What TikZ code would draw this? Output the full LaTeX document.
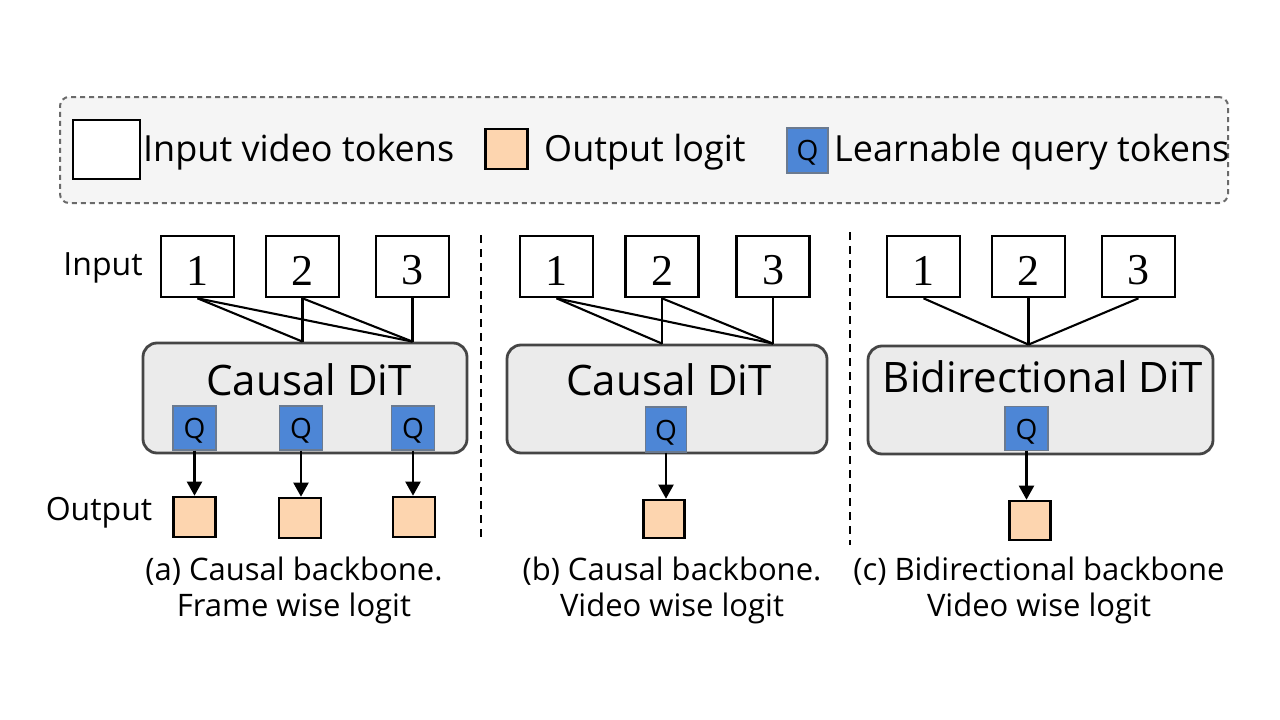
\documentclass[tikz,border=0pt]{standalone}
\usepackage{fontspec}
\setmainfont{Open Sans}
\newfontfamily\numfont{Liberation Serif}
\usetikzlibrary{arrows.meta}
\definecolor{legfill}{HTML}{F5F5F5}
\definecolor{legdash}{HTML}{6A6A6A}
\definecolor{ditfill}{HTML}{EBEBEB}
\definecolor{ditborder}{HTML}{454545}
\definecolor{qblue}{HTML}{4D86D6}
\definecolor{qborder}{HTML}{6B7A8F}
\definecolor{peach}{HTML}{FDD5AF}
\newcommand{\lowr}[2]{\raisebox{-#1}[\height][\depth]{#2}}
\tikzset{
  inbox/.style={draw=black, line width=2.6pt, fill=white, minimum width=73pt, minimum height=61pt, inner sep=0pt,
    font=\numfont\fontsize{44}{44}\selectfont},
  ditbox/.style={draw=ditborder, fill=ditfill, line width=2.8pt, rounded corners=14pt, inner sep=0pt},
  qbox/.style={draw=qborder, fill=qblue, line width=1.2pt, minimum width=43pt, minimum height=44pt, inner sep=0pt,
    font=\fontsize{28}{28}\selectfont},
  outbox/.style={draw=black, fill=peach, line width=2.6pt, minimum width=42pt, minimum height=40pt, inner sep=0pt},
  link/.style={line width=2.1pt},
  arr/.style={line width=2.1pt, -{Triangle[length=14pt,width=15pt]}},
  divider/.style={line width=2pt, dash pattern=on 8pt off 6pt},
  lbl/.style={inner sep=0pt, font=\fontsize{32}{32}\selectfont},
  ditlbl/.style={inner sep=0pt, font=\fontsize{42}{42}\selectfont},
  leglbl/.style={inner sep=0pt, anchor=west, font=\fontsize{36}{36}\selectfont},
  captxt/.style={inner sep=0pt, align=center, font=\fontsize{31}{36}\selectfont},
}
\begin{document}
\begin{tikzpicture}[x=1pt, y=-1pt]
\useasboundingbox (0,0) rectangle (1280,720);

% legend
\node[draw=legdash, fill=legfill, line width=2pt, dash pattern=on 5pt off 4pt, rounded corners=9pt,
      minimum width=1168pt, minimum height=106pt, inner sep=0pt] (legend) at (644,150) {};
\node[draw=black, fill=white, line width=2.6pt, minimum width=67pt, minimum height=59pt, inner sep=0pt] (legin) at (106.5,149.5) {};
\node[leglbl] (legintxt) at (143,152) {Input video tokens};
\node[outbox] (legout) at (506.5,149) {};
\node[leglbl] (legouttxt) at (544,152) {Output logit};
\node[qbox, minimum width=41pt, minimum height=45pt] (legq) at (807.5,150.5) {\lowr{2pt}{Q}};
\node[leglbl] (legqtxt) at (834,152) {Learnable query tokens};

% ---------- panel (a)
\node[lbl] (inlabel) at (103,268) {Input};
\node[lbl] (outlabel) at (99,513) {Output};
\node[inbox] (a1) at (197.5,266.5) {\lowr{4pt}{1}};
\node[inbox] (a2) at (302.5,266.5) {\lowr{4pt}{2}};
\node[inbox] (a3) at (412.5,266.5) {\lowr{4pt}{3}};
\node[ditbox, minimum width=324pt, minimum height=110pt] (ditA) at (305,398) {};
\node[ditlbl] (ditAtxt) at (309,380) {Causal DiT};
\node[qbox] (qa1) at (194.5,428) {\lowr{3pt}{Q}};
\node[qbox] (qa2) at (301,428) {\lowr{3pt}{Q}};
\node[qbox] (qa3) at (413,428) {\lowr{3pt}{Q}};
\node[outbox] (oa1) at (194.5,517) {};
\node[outbox] (oa2) at (300,518) {};
\node[outbox] (oa3) at (414,517) {};
\draw[link] (a1.south) -- (a2.south |- ditA.north);
\draw[link] (a1.south) -- (a3.south |- ditA.north);
\draw[link] (a2.south) -- (a2.south |- ditA.north);
\draw[link] (a2.south) -- (a3.south |- ditA.north);
\draw[link] (a3.south) -- (a3.south |- ditA.north);
\draw[arr] (qa1.south) -- (qa1.south |- oa1.north);
\draw[arr] (qa2.south) -- (qa2.south |- oa2.north);
\draw[arr] (qa3.south) -- (qa3.south |- oa3.north);
\node[captxt] (capA) at (294,590) {(a) Causal backbone.\\Frame wise logit};

\coordinate (d1t) at (481,235);
\coordinate (d1b) at (481,542);
\draw[divider] (d1t) -- (d1b);

% ---------- panel (b)
\node[inbox] (b1) at (556.5,266.5) {\lowr{4pt}{1}};
\node[inbox] (b2) at (662,266.5) {\lowr{4pt}{2}};
\node[inbox] (b3) at (773,266.5) {\lowr{4pt}{3}};
\node[ditbox, minimum width=320pt, minimum height=108pt] (ditB) at (667,399) {};
\node[ditlbl] (ditBtxt) at (669,380) {Causal DiT};
\node[qbox, minimum width=41pt, minimum height=45pt] (qb) at (666,429.5) {\lowr{3pt}{Q}};
\node[outbox, minimum width=41pt, minimum height=38pt] (ob) at (664,519) {};
\draw[link] (b1.south) -- (b2.south |- ditB.north);
\draw[link] (b1.south) -- (b3.south |- ditB.north);
\draw[link] (b2.south) -- (b2.south |- ditB.north);
\draw[link] (b2.south) -- (b3.south |- ditB.north);
\draw[link] (b3.south) -- (b3.south |- ditB.north);
\draw[arr] (qb.south) -- (qb.south |- ob.north);
\node[captxt] (capB) at (672,590) {(b) Causal backbone.\\Video wise logit};

\coordinate (d2t) at (850,232);
\coordinate (d2b) at (850,545);
\draw[divider] (d2t) -- (d2b);

% ---------- panel (c)
\node[inbox] (c1) at (923.5,266.5) {\lowr{4pt}{1}};
\node[inbox] (c2) at (1028.5,266.5) {\lowr{4pt}{2}};
\node[inbox] (c3) at (1138.5,266.5) {\lowr{4pt}{3}};
\node[ditbox, minimum width=345pt, minimum height=108pt] (ditC) at (1040.5,400) {};
\node[ditlbl] (ditCtxt) at (1043,377) {Bidirectional DiT};
\node[qbox] (qc) at (1026.5,428.5) {\lowr{3pt}{Q}};
\node[outbox, minimum width=41pt, minimum height=39pt] (oc) at (1030,520.5) {};
\draw[link] (c1.south) -- (c2.south |- ditC.north);
\draw[link] (c2.south) -- (c2.south |- ditC.north);
\draw[link] (c3.south) -- (c2.south |- ditC.north);
\draw[arr] (qc.south) -- (qc.south |- oc.north);
\node[captxt] (capC) at (1039,590) {(c) Bidirectional backbone\\Video wise logit};
\end{tikzpicture}
\end{document}
